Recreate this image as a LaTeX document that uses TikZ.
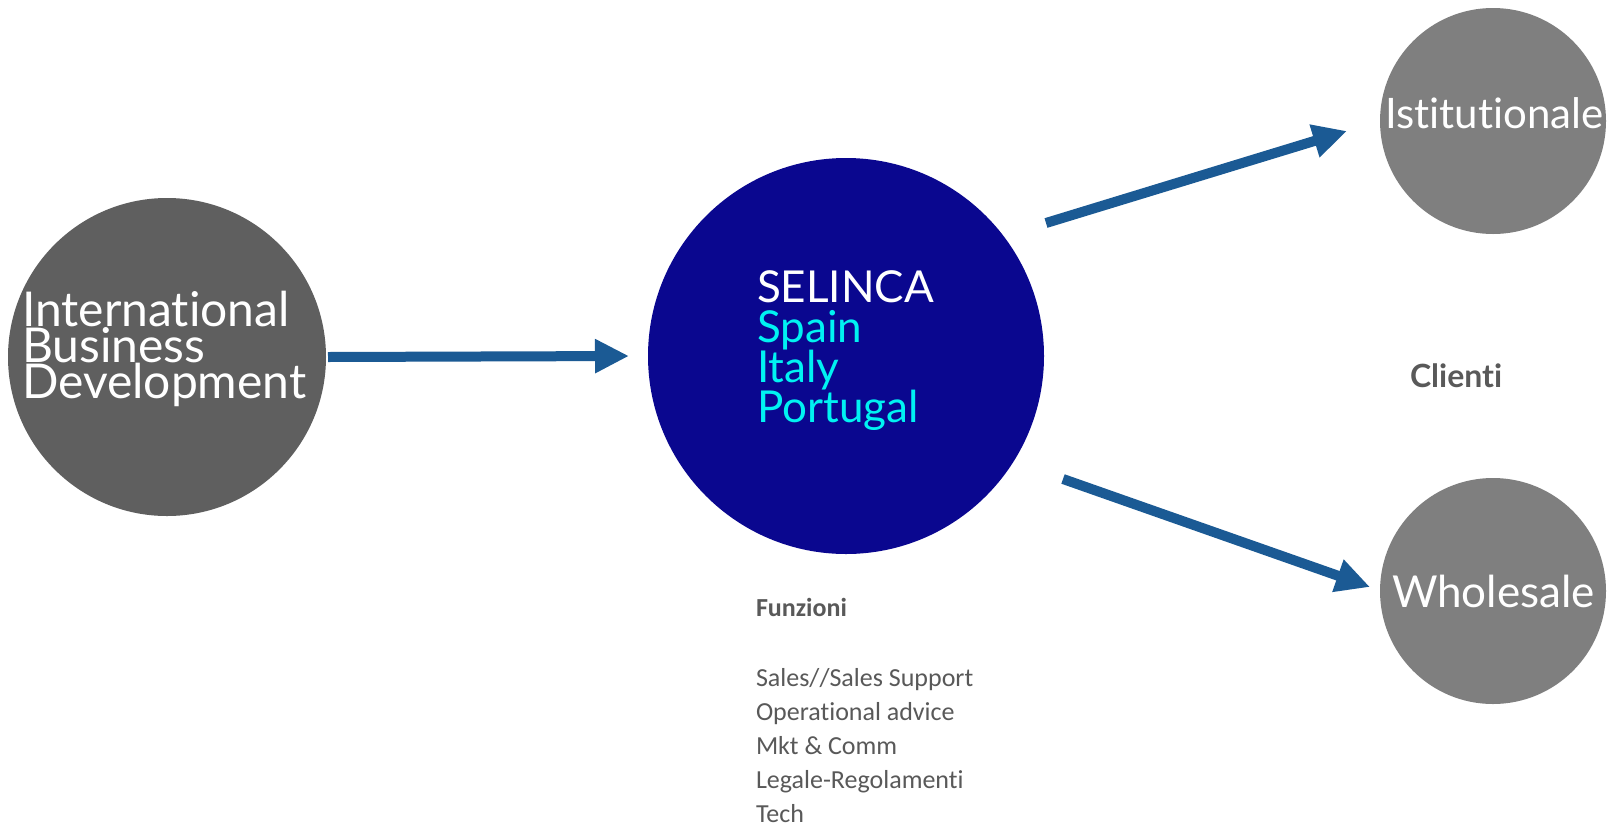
\documentclass[tikz,border=0pt]{standalone}
\usepackage{fontspec}
\setmainfont{Lato}[Ligatures=NoCommon]
\newfontfamily\calib{Carlito}[Ligatures=NoCommon]
\usetikzlibrary{arrows.meta}
\definecolor{graydark}{HTML}{5F5F5F}
\definecolor{graymid}{HTML}{7F7F7F}
\definecolor{navyfill}{HTML}{0A078F}
\definecolor{arrowblue}{HTML}{1B5A94}
\definecolor{cyantext}{HTML}{00F2F2}
\definecolor{textgray}{HTML}{595959}
\begin{document}
\begin{tikzpicture}[x=1pt,y=-1pt,
  bubble/.style={circle, inner sep=0pt, outer sep=0pt},
  flow/.style={draw=arrowblue, line width=10pt, -{Triangle[length=34pt,width=32pt]}},
  bubbletext/.style={anchor=base west, inner sep=0pt, outer sep=0pt, text=white, align=left}]
\fill[white] (0,0) rectangle (1608,828);
\useasboundingbox (0,0) rectangle (1608,828);
% circles
\node[bubble, fill=graydark, minimum size=318pt] (ibd) at (167,357) {};
\node[bubble, fill=navyfill, minimum size=396pt] (sel) at (846,356) {};
\node[bubble, fill=graymid, minimum size=226pt] (ist) at (1493,121) {};
\node[bubble, fill=graymid, minimum size=226pt] (who) at (1493,591) {};
% texts (base anchor = baseline of the last line)
\node[bubbletext, font={\fontsize{48}{36}\selectfont}] (ibdt) at (22,398)
  {International\\Business\\Development};
\node[bubbletext, font={\fontsize{44}{40}\selectfont}] (selt) at (757,422)
  {SELINCA\\\textcolor{cyantext}{Spain}\\\textcolor{cyantext}{Italy}\\\textcolor{cyantext}{Portugal}};
\node[bubbletext, font={\fontsize{42}{42}\selectfont}] (istt) at (1385,128) {Istitutionale};
\node[bubbletext, font={\fontsize{44}{44}\selectfont}] (whot) at (1392,607) {Wholesale};
\node[bubbletext, text=textgray, font={\fontsize{32}{32}\selectfont\bfseries}] (cli) at (1410,387) {Clienti};
\node[bubbletext, text=textgray, font={\calib\fontsize{26}{34}\selectfont}] (fun) at (756,822)
  {\textbf{Funzioni}\\[36pt]Sales//Sales Support\\Operational advice\\Mkt \& Comm\\Legale-Regolamenti\\Tech};
% arrows
\draw[flow] ([shift={(161,0)}]ibd.center) -- ([shift={(-217,0)}]sel.center);
\draw[flow] ([shift={(200,-133)}]sel.center) -- ([shift={(-146,10)}]ist.center);
\draw[flow] ([shift={(217,123)}]sel.center) -- ([shift={(-123,-4)}]who.center);
\end{tikzpicture}
\end{document}
